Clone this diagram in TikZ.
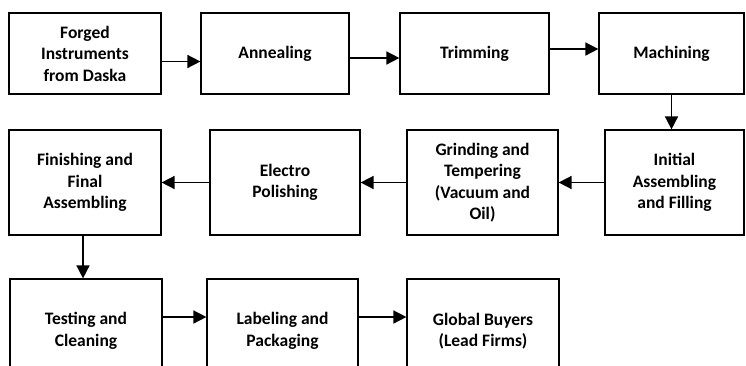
\documentclass[tikz,border=0pt]{standalone}
\usepackage{fontspec}
\setmainfont{Carlito}
\usetikzlibrary{arrows.meta}
\tikzset{
  stage/.style={draw, line width=1.2pt, inner sep=0pt, align=center,
    font=\bfseries\fontsize{17.5}{21.5}\selectfont},
  flow/.style={line width=1.6pt, -{Triangle[length=13pt,width=13pt]}}
}
\newcommand{\stagebox}[6]{\node[stage, minimum width=#4pt, minimum height=#5pt] (#1) at ( #2 , #3 ) {#6};}

\begin{document}
\begin{tikzpicture}[x=1pt, y=-1pt]

        \clip (0,0) rectangle (746,365);

        % row1
        \stagebox{forged}{85}{53.5}{152}{81}{Forged\\Instruments\\from Daska}
        \stagebox{anneal}{275}{53.5}{148}{81}{Annealing}
        \stagebox{trim}{474.5}{53.5}{149}{81}{Trimming}
        \stagebox{mach}{671.5}{53.5}{145}{81}{Machining}

        % row2
        \stagebox{finish}{85}{182.5}{152}{105}{Finishing and\\Final\\Assembling}
        \stagebox{electro}{285}{182.5}{150}{105}{Electro\\Polishing}
        \stagebox{grind}{482.5}{182.5}{151}{105}{Grinding and\\Tempering\\(Vacuum and\\Oil)}
        \stagebox{initial}{674.5}{182.5}{139}{105}{Initial\\Assembling\\and Filling}

        % row3
        \stagebox{test}{86}{331}{152}{104}{Testing and\\Cleaning}
        \stagebox{label}{282.5}{331}{151}{104}{Labeling and\\Packaging}
        \stagebox{global}{483}{331}{152}{104}{Global Buyers\\(Lead Firms)}

        % arrows
        \draw[flow] ([yshift=-8pt]forged.east) -- ([yshift=-8pt]anneal.west);
        \draw[flow] ([yshift=-4.5pt]anneal.east) -- ([yshift=-4.5pt]trim.west);
        \draw[flow] ([yshift=4.5pt]trim.east) -- ([yshift=4.5pt]mach.west);
        \draw[flow] (mach.south) -- (mach.south |- initial.north);
        \draw[flow] (initial.west) -- (grind.east);
        \draw[flow] (grind.west) -- (electro.east);
        \draw[flow] (electro.west) -- (finish.east);
        \draw[flow] ([xshift=-2pt]finish.south) -- ([xshift=-2pt]finish.south |- test.north);
        \draw[flow] ([yshift=14pt]test.east) -- ([yshift=14pt]label.west);
        \draw[flow] ([yshift=14pt]label.east) -- ([yshift=14pt]global.west);

\end{tikzpicture}
\end{document}
